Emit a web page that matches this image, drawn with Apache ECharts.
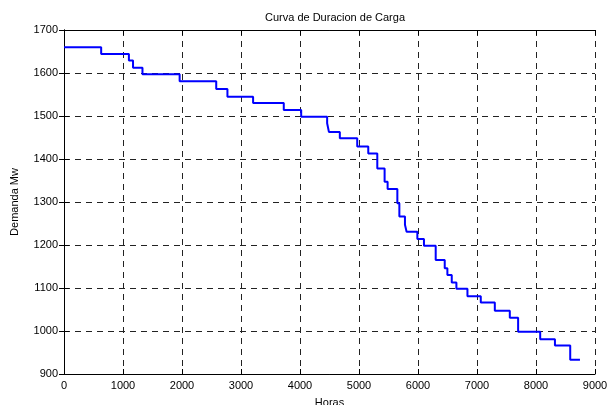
<!DOCTYPE html>
<html>
<head>
<meta charset="utf-8">
<script src="https://cdn.jsdelivr.net/npm/echarts@6/dist/echarts.min.js"></script>
<style>
  html, body { margin: 0; padding: 0; background: #fff; }
  #chart { width: 609px; height: 405px; }
</style>
</head>
<body>
<div id="chart"></div>
<script>
// step start hours and load level (MW) held until the next step
const horas = [0, 630, 1100, 1170, 1330, 1960, 2580, 2770, 3205, 3725, 4020, 4460, 4490, 4675, 4970, 5157, 5310, 5434, 5485, 5650, 5684, 5779, 5807, 5989, 6101, 6300, 6453, 6498, 6572, 6651, 6838, 7064, 7302, 7556, 7697, 8071, 8321, 8580];
const demanda = [1660, 1644, 1629, 1612, 1597, 1581, 1563, 1545, 1530, 1514, 1498, 1483, 1463, 1448, 1429, 1413, 1378, 1347, 1330, 1297, 1266, 1247, 1231, 1214, 1198, 1165, 1146, 1130, 1113, 1098, 1081, 1066, 1047, 1031, 998, 981, 966, 933];
const horaFinal = 8745;

const font = "Liberation Sans, Arial, sans-serif";

let data = horas.map((h, i) => [h, demanda[i]]);
data.push([horaFinal, demanda[demanda.length - 1]]);

const myChart = echarts.init(document.getElementById("chart"));

const gridLine = {
  show: true,
  lineStyle: { color: "#222", type: [6, 5], width: 1 }
};
const plain = v => String(v);

let option = {
  animation: false,
  title: {
    text: "Curva de Duracion de Carga",
    left: 330,
    textAlign: "center",
    top: 7,
    textStyle: { fontFamily: font, fontSize: 11, fontWeight: "normal", color: "#000" }
  },
  grid: { left: 64, right: 14, top: 30, bottom: 31, outerBoundsMode: "none", containLabel: false },
  xAxis: [
    {
      type: "value",
      min: 0,
      max: 9000,
      interval: 1000,
      name: "Horas",
      nameLocation: "middle",
      nameGap: 23,
      nameTextStyle: { fontFamily: font, fontSize: 11, color: "#000" },
      axisLine: { lineStyle: { color: "#000", width: 1 } },
      axisTick: { inside: true, length: 5, lineStyle: { color: "#000" } },
      axisLabel: { fontFamily: font, fontSize: 11, color: "#000", margin: 6, formatter: plain },
      splitLine: gridLine
    },
    {
      type: "value",
      position: "top",
      min: 0,
      max: 9000,
      interval: 1000,
      axisLine: { show: true, lineStyle: { color: "#000", width: 1 } },
      axisTick: { inside: true, length: 5, lineStyle: { color: "#000" } },
      axisLabel: { show: false },
      splitLine: { show: false }
    }
  ],
  yAxis: [
    {
      type: "value",
      min: 900,
      max: 1700,
      interval: 100,
      name: "Demanda Mw",
      nameLocation: "middle",
      nameGap: 44,
      nameTextStyle: { fontFamily: font, fontSize: 11, color: "#000" },
      axisLine: { show: true, lineStyle: { color: "#000", width: 1 } },
      axisTick: { show: true, inside: true, length: 5, lineStyle: { color: "#000" } },
      axisLabel: { fontFamily: font, fontSize: 11, color: "#000", margin: 6, formatter: plain },
      splitLine: gridLine
    },
    {
      type: "value",
      position: "right",
      min: 900,
      max: 1700,
      interval: 100,
      axisLine: { show: true, lineStyle: { color: "#000", width: 1 } },
      axisTick: { show: true, inside: true, length: 5, lineStyle: { color: "#000" } },
      axisLabel: { show: false },
      splitLine: { show: false }
    }
  ],
  series: [
    {
      type: "line",
      step: "end",
      data: data,
      showSymbol: false,
      lineStyle: { color: "#0000ff", width: 2 },
      itemStyle: { color: "#0000ff" }
    }
  ]
};
myChart.setOption(option, true);
</script>
</body>
</html>
